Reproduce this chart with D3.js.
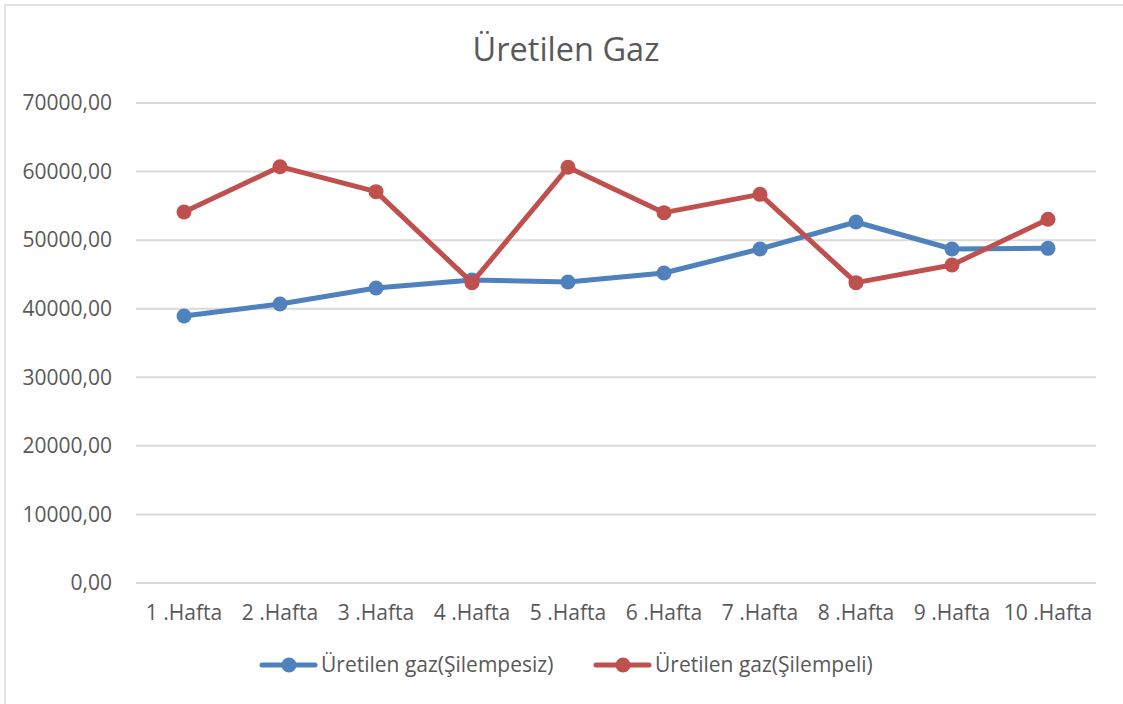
<!DOCTYPE html>
<html>
<head>
<meta charset="utf-8">
<script src="https://cdn.jsdelivr.net/npm/d3@7"></script>
<style>
  body { margin: 0; background: #fff; }
  text { font-family: "Open Sans", sans-serif; fill: #595959; }
</style>
</head>
<body>
<div id="chart"></div>
<script>
// data
const categories = ["1 .Hafta", "2 .Hafta", "3 .Hafta", "4 .Hafta", "5 .Hafta",
                    "6 .Hafta", "7 .Hafta", "8 .Hafta", "9 .Hafta", "10 .Hafta"];
const seriesNames = ["Üretilen gaz(Şilempesiz)", "Üretilen gaz(Şilempeli)"];
const silempesiz = [38940, 40690, 43020, 44200, 43900, 45210, 48710, 52650, 48710, 48800];
const silempeli  = [54100, 60710, 57070, 43800, 60620, 54010, 56680, 43800, 46380, 53040];
const yTicks = [0, 10000, 20000, 30000, 40000, 50000, 60000, 70000];
const colors = ["#4F81BD", "#C0504D"];

const width = 1123, height = 704;
const margin = { top: 103, right: 27, bottom: 121, left: 136 };

const svg = d3.select("#chart").append("svg")
    .attr("width", width)
    .attr("height", height);

// chart frame
svg.append("rect")
    .attr("x", 5).attr("y", 5)
    .attr("width", width + 10).attr("height", height + 10)
    .attr("fill", "none")
    .attr("stroke", "#d9d9d9")
    .attr("stroke-width", 1.5);

// title
svg.append("text")
    .attr("x", 566)
    .attr("y", 61)
    .attr("text-anchor", "middle")
    .attr("font-size", "32.5px")
    .text("Üretilen Gaz");

const x = d3.scaleBand()
    .domain(categories)
    .range([margin.left, width - margin.right]);

const y = d3.scaleLinear()
    .domain([0, 70000])
    .range([height - margin.bottom, margin.top]);

// gridlines
svg.append("g")
    .selectAll("line")
    .data(yTicks)
    .join("line")
    .attr("x1", margin.left)
    .attr("x2", width - margin.right)
    .attr("y1", d => y(d))
    .attr("y2", d => y(d))
    .attr("stroke", "#d9d9d9")
    .attr("stroke-width", 2);

// y labels
const fmt = d => d3.format(".2f")(d).replace(".", ",");
svg.append("g")
    .selectAll("text")
    .data(yTicks)
    .join("text")
    .attr("x", 112)
    .attr("y", d => y(d))
    .attr("dy", "0.35em")
    .attr("text-anchor", "end")
    .attr("font-size", "21px")
    .text(fmt);

// x labels
svg.append("g")
    .selectAll("text")
    .data(categories)
    .join("text")
    .attr("x", d => x(d) + x.bandwidth() / 2)
    .attr("y", 613)
    .attr("dy", "0.35em")
    .attr("text-anchor", "middle")
    .attr("font-size", "21px")
    .text(d => d);

// lines and markers
const series = [silempesiz, silempeli];
const line = d3.line()
    .x((d, i) => x(categories[i]) + x.bandwidth() / 2)
    .y(d => y(d));

series.forEach((vals, k) => {
  svg.append("path")
      .datum(vals)
      .attr("d", line)
      .attr("fill", "none")
      .attr("stroke", colors[k])
      .attr("stroke-width", 5)
      .attr("stroke-linejoin", "round")
      .attr("stroke-linecap", "round");
  svg.append("g")
      .selectAll("circle")
      .data(vals)
      .join("circle")
      .attr("cx", (d, i) => x(categories[i]) + x.bandwidth() / 2)
      .attr("cy", d => y(d))
      .attr("r", 7.5)
      .attr("fill", colors[k]);
});

// legend
const legendX = [262, 596];
const legend = svg.append("g");
seriesNames.forEach((name, k) => {
  const g = legend.append("g").attr("transform", `translate(${legendX[k]}, 665)`);
  g.append("line")
      .attr("x1", 0).attr("x2", 53)
      .attr("stroke", colors[k])
      .attr("stroke-width", 5)
      .attr("stroke-linecap", "round");
  g.append("circle")
      .attr("cx", 27).attr("r", 7.5)
      .attr("fill", colors[k]);
  g.append("text")
      .attr("x", 59)
      .attr("dy", "0.35em")
      .attr("font-size", "21px")
      .text(name);
});
</script>
</body>
</html>
